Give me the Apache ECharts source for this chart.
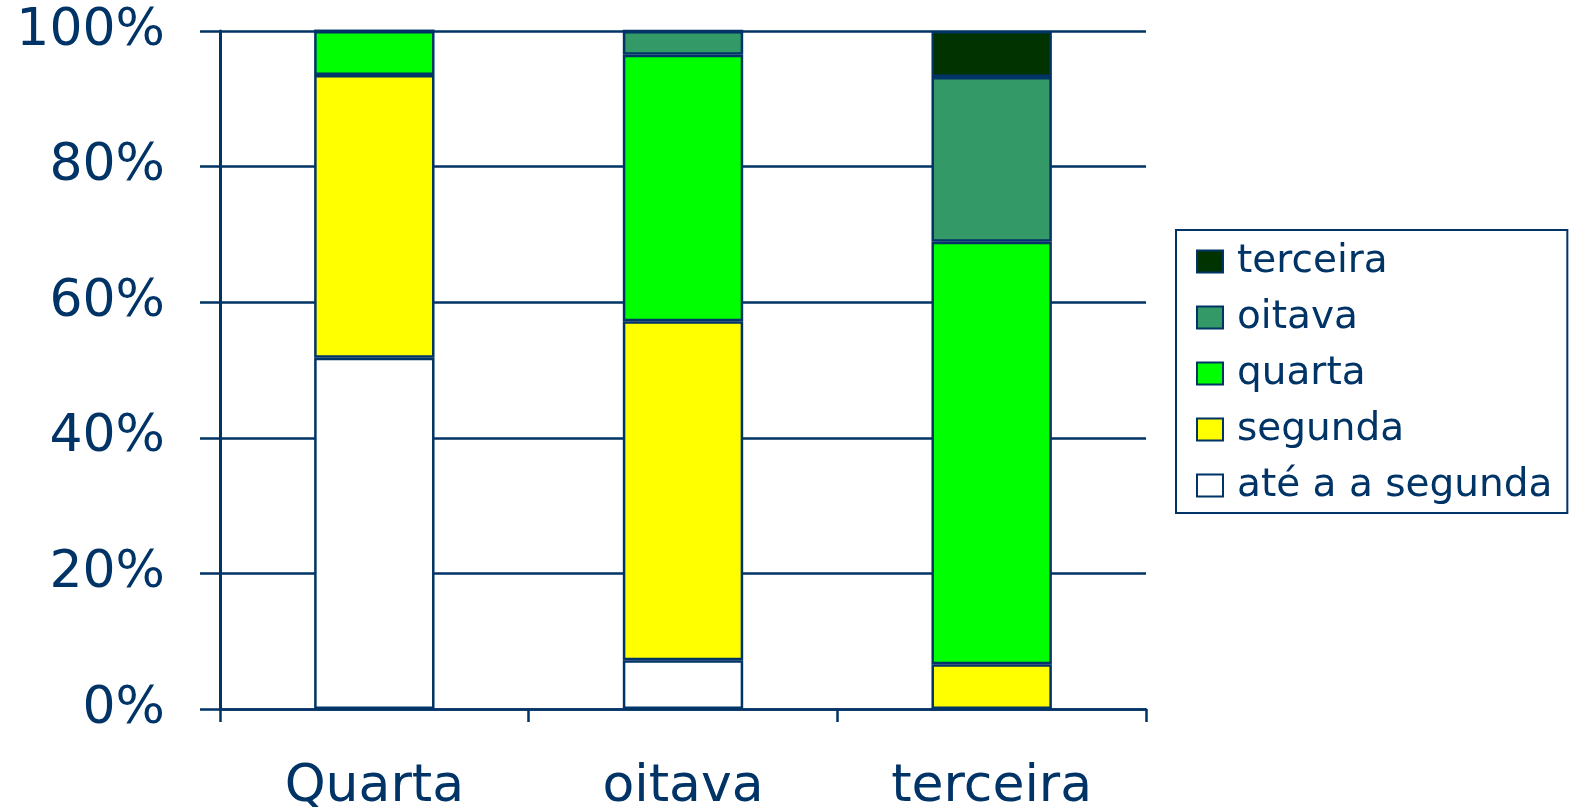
<!DOCTYPE html>
<html>
<head>
<meta charset="utf-8">
<script src="https://cdn.jsdelivr.net/npm/echarts@6/dist/echarts.min.js"></script>
<style>
  html, body { margin: 0; padding: 0; background: #fff; }
  #chart { width: 1573px; height: 807px; }
</style>
</head>
<body>
<div id="chart"></div>
<script>
// categorias e valores (% de cada segmento, de baixo para cima)
let categories = ["Quarta", "oitava", "terceira"];
let ate_segunda = [51.8, 7.2, 0];
let segunda = [41.7, 50.0, 6.6];
let quarta = [6.5, 39.3, 62.3];
let oitava = [0, 3.5, 24.3];
let terceira = [0, 0, 6.8];
let y_ticks = [0, 20, 40, 60, 80, 100];

let navy = "#003366";
let font = "DejaVu Sans";

function seg(name, data, color) {
	return {
		name: name,
		type: "bar",
		stack: "total",
		barWidth: "39%",
		data: data,
		itemStyle: {
			color: color,
			borderColor: navy,
			borderWidth: 2.5,
		},
	};
}

let chart = echarts.init(document.getElementById("chart"));
let option = {
	animation: false,
	backgroundColor: "#fff",
	grid: {
		left: 220,
		right: 427,
		top: 31,
		bottom: 98,
		outerBoundsMode: "none", // não encolher a grelha por causa dos rótulos
	},
	legend: {
		orient: "vertical",
		left: 1176,
		top: 230,
		data: ["terceira", "oitava", "quarta", "segunda", "até a a segunda"],
		icon: "rect",
		itemWidth: 26,
		itemHeight: 22,
		itemGap: 17,
		padding: [12, 15, 8, 20],
		borderColor: navy,
		borderWidth: 2,
		textStyle: {
			fontFamily: font,
			fontSize: 39,
			lineHeight: 36,
			color: navy,
			padding: [0, 0, 0, 9],
		},
	},
	xAxis: {
		type: "category",
		data: categories,
		axisLine: { lineStyle: { color: navy, width: 2.5 } },
		axisTick: { show: true, length: 13, lineStyle: { color: navy, width: 2.5 } },
		axisLabel: {
			fontFamily: font,
			fontSize: 52,
			color: navy,
			margin: 52,
		},
	},
	yAxis: {
		type: "value",
		min: y_ticks[0],
		max: y_ticks[y_ticks.length - 1],
		interval: 20,
		axisLine: { show: true, lineStyle: { color: navy, width: 3 } },
		axisTick: { show: true, length: 20, lineStyle: { color: navy, width: 2.5 } },
		splitLine: { lineStyle: { color: navy, width: 2.5 } },
		axisLabel: {
			fontFamily: font,
			fontSize: 52,
			color: navy,
			margin: 55,
			formatter: "{value}%",
		},
	},
	series: [
		seg("até a a segunda", ate_segunda, "#ffffff"),
		seg("segunda", segunda, "#ffff00"),
		seg("quarta", quarta, "#00ff00"),
		seg("oitava", oitava, "#339966"),
		seg("terceira", terceira, "#003300"),
	],
};
chart.setOption(option);
</script>
</body>
</html>
